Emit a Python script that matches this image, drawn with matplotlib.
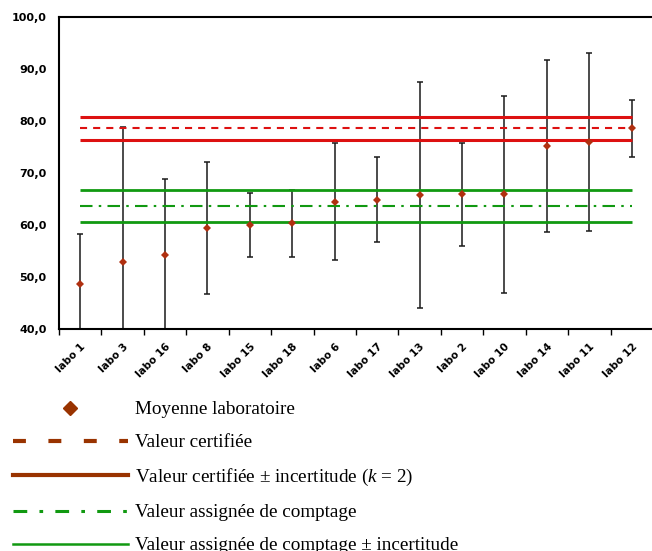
import matplotlib
matplotlib.use("Agg")
import matplotlib.pyplot as plt
from matplotlib.lines import Line2D
from matplotlib.ticker import FuncFormatter, FixedLocator
import numpy as np

# Laboratory results, sorted by mean value
labos = ["labo 1", "labo 3", "labo 16", "labo 8", "labo 15", "labo 18", "labo 6",
         "labo 17", "labo 13", "labo 2", "labo 10", "labo 14", "labo 11", "labo 12"]
moyennes = [48.6, 52.9, 54.2, 59.5, 60.0, 60.3, 64.5,
            64.9, 65.8, 65.9, 65.9, 75.2, 76.0, 78.6]
incertitudes = [9.7, 25.9, 14.6, 12.7, 6.1, 6.5, 11.3,
                8.1, 21.7, 9.9, 19.0, 16.5, 17.1, 5.5]

# Reference values
valeur_certifiee = 78.6
incert_certifiee = 2.2
valeur_comptage = 63.7
incert_comptage = 3.1

y_ticks = [40, 50, 60, 70, 80, 90, 100]

plt.rcParams["mathtext.fontset"] = "custom"
plt.rcParams["mathtext.it"] = "Liberation Serif:italic"
plt.rcParams["mathtext.rm"] = "Liberation Serif"

W, H = 652, 551
fig = plt.figure(figsize=(W / 100, H / 100), dpi=100)
ax = fig.add_axes([59 / W, (H - 329) / H, 594 / W, 312 / H])

x = np.arange(len(labos))
red = "#dd1111"
green = "#119911"
brown = "#993300"

# error bars
ax.errorbar(x, moyennes, yerr=incertitudes, fmt="none", ecolor="#1a1a1a",
            elinewidth=1.1, capsize=2.5, capthick=1.1, zorder=2)

# reference lines spanning first to last laboratory
x0, x1 = x[0], x[-1]
ax.hlines([valeur_certifiee + incert_certifiee, valeur_certifiee - incert_certifiee],
          x0, x1, colors=red, linewidth=2.2, zorder=3)
ax.hlines(valeur_certifiee, x0, x1, colors=red, linewidth=1.5,
          linestyles=(0, (3.4, 2.9)), zorder=3)
ax.hlines([valeur_comptage + incert_comptage, valeur_comptage - incert_comptage],
          x0, x1, colors=green, linewidth=2.0, zorder=3)
ax.hlines(valeur_comptage, x0, x1, colors=green, linewidth=1.5,
          linestyles=(0, (6, 3, 1.2, 3)), zorder=3)

# laboratory means
ax.plot(x, moyennes, linestyle="none", marker="D", markersize=3.8,
        color="#b03010", markeredgewidth=0, zorder=4)

ax.set_xlim(-0.5, len(labos) - 0.5)
ax.set_ylim(40, 100)

ax.yaxis.set_major_locator(FixedLocator(y_ticks))
ax.yaxis.set_major_formatter(FuncFormatter(lambda v, p: f"{v:.1f}".replace(".", ",")))
ax.tick_params(axis="y", length=0, pad=9, labelsize=8)
for t in ax.get_yticklabels():
    t.set_fontweight("bold")

ax.set_xticks(x)
ax.set_xticklabels(labos, rotation=45, ha="right", va="top",
                   rotation_mode="anchor", fontsize=7.5, fontweight="bold")
ax.tick_params(axis="x", which="major", length=0, pad=9)
ax.set_xticks(np.arange(-0.5, len(labos), 1.0), minor=True)
ax.tick_params(axis="x", which="minor", length=4, width=1.0, direction="out")

for side in ["left", "top", "bottom"]:
    ax.spines[side].set_linewidth(1.5)
ax.spines["right"].set_visible(False)

# legend below the plot
handles = [
    Line2D([], [], linestyle="none", marker="D", markersize=7.5, color=brown),
    Line2D([], [], color=brown, linewidth=3, linestyle=(0, (3.1, 5.4))),
    Line2D([], [], color=brown, linewidth=3),
    Line2D([], [], color=green, linewidth=2.2, linestyle=(0, (4.5, 4, 1.2, 4))),
    Line2D([], [], color=green, linewidth=1.8),
]
labels = [
    "Moyenne laboratoire",
    "Valeur certifiée",
    r"Valeur certifiée ± incertitude ($k$ = 2)",
    "Valeur assignée de comptage",
    "Valeur assignée de comptage ± incertitude",
]
fig.legend(handles, labels, loc="upper left", bbox_to_anchor=(13 / W, 1 - 401 / H),
           frameon=False, prop={"family": "Liberation Serif", "size": 13.75},
           handlelength=6.0, handletextpad=0.37, labelspacing=0.82,
           borderpad=0, borderaxespad=0)

fig.savefig("out.png", dpi=100)
